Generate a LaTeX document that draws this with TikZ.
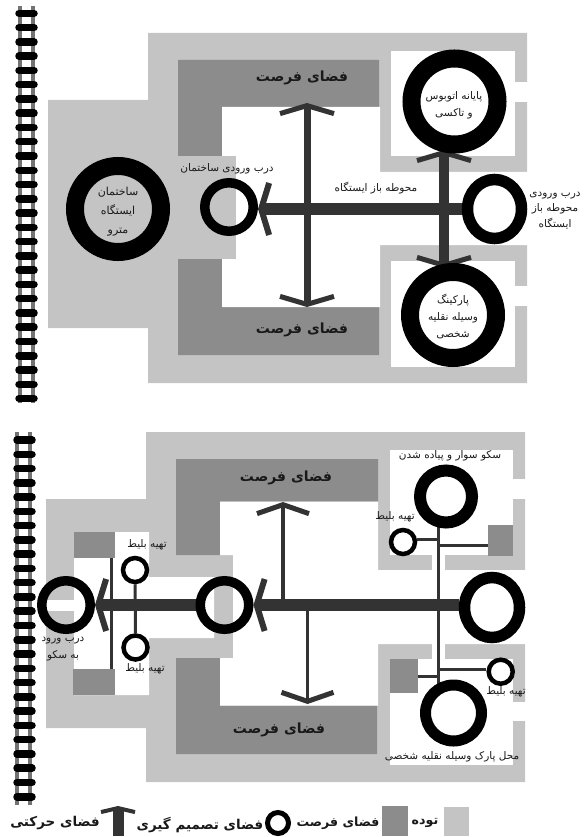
\documentclass[tikz,border=0pt]{standalone}
\usepackage{fontspec}
\usepackage{xcolor}
\usetikzlibrary{arrows.meta,backgrounds,calc,shapes.geometric}
\TeXXeTstate=1
\newfontfamily\fafont[Script=Arabic]{DejaVu Sans}
\definecolor{mass}{HTML}{c4c4c4}
\definecolor{chance}{HTML}{8c8c8c}
\definecolor{walk}{HTML}{333333}
\newcommand{\fa}[1]{\beginR #1\endR}

\begin{document}
\begin{tikzpicture}[x=1pt,y=-1pt,
  lbl/.style={font=\fafont\fontsize{10.5}{17}\selectfont, align=center, inner sep=0pt, text=black!90},
  lblbig/.style={font=\fafont\bfseries\fontsize{14}{16}\selectfont, inner sep=0pt, text=black!90},
  lblleg/.style={font=\fafont\bfseries\fontsize{13.5}{16}\selectfont, inner sep=0pt, text=black!90},
  ringbig/.style={circle, draw=black, line width=18pt, inner sep=0pt, minimum size=86pt},
  ringdoor/.style={circle, draw=black, line width=9.5pt, inner sep=0pt, minimum size=48.5pt},
  ringgate/.style={ellipse, draw=black, line width=11.5pt, inner sep=0pt, minimum width=54pt, minimum height=59pt},
  ringtick/.style={circle, draw=black, fill=white, line width=4.5pt, inner sep=0pt, minimum size=24pt},
  chancebox/.style={draw=none, fill=chance, inner sep=0pt},
  movebig/.style={line width=12pt, draw=walk, -{Straight Barb[length=8pt,width=52pt,line width=6pt]}},
  movemid/.style={line width=7pt, draw=walk, -{Straight Barb[length=8pt,width=54pt,line width=5pt]}},
  movelow/.style={line width=3.5pt, draw=walk, -{Straight Barb[length=9pt,width=52pt,line width=5pt]}},
  branch/.style={line width=3pt, draw=walk},
  railbar/.style={line width=3.5pt, draw=black!55},
  sleeper/.style={line width=7.5pt, draw=black, line cap=round}]

\useasboundingbox (0,0) rectangle (587,837);

% upper plan
\node[ringbig] (metro) at (118,209) {};
\node[lbl, font=\fafont\fontsize{11}{19}\selectfont] at (118,211.5) {\fa{ساختمان}\\ \fa{ایستگاه}\\ \fa{مترو}};
\node[ringdoor] (door) at (229,207) {};
\node[ringgate] (gate) at (494.5,209) {};
\node[ringbig, fill=white] (bus) at (454.5,101.5) {};
\node[lbl] at (454,105) {\fa{پایانه اتوبوس}\\ \fa{و تاکسی}};
\node[ringbig, fill=white] (park) at (453,315) {};
\node[lbl] at (453,316) {\fa{پارکینگ}\\ \fa{وسیله نقلیه}\\ \fa{شخصی}};
\coordinate (upA) at (307,103);
\coordinate (upB) at (307,307);
\coordinate (busA) at (444,150);
\coordinate (busB) at (444,268);

% lower plan
\node[ringdoor] (platDoor) at (66,605) {};
\node[ringdoor] (midDoor) at (224.5,605) {};
\node[ringgate, minimum width=55pt, minimum height=60pt] (lowGate) at (492,607.5) {};
\node[circle, draw=black, fill=white, line width=12pt, inner sep=0pt, minimum size=52pt] (platform) at (446,496.5) {};
\node[circle, draw=black, fill=white, line width=11pt, inner sep=0pt, minimum size=56pt] (carPark) at (453.5,713) {};
\node[ringtick] (tickA) at (403,542) {};
\node[ringtick] (tickB) at (500.7,671.7) {};
\node[ringtick] (tickC) at (135,570) {};
\node[ringtick] (tickD) at (135.5,647.5) {};
\node[chancebox, minimum width=25pt, minimum height=30.5pt] (boxA) at (500.5,540.3) {};
\node[chancebox, minimum width=28.5pt, minimum height=34pt] (boxB) at (404,676) {};
\node[chancebox, minimum width=41pt, minimum height=26pt] (boxC) at (94.5,545) {};
\node[chancebox, minimum width=42pt, minimum height=26pt] (boxD) at (94,682) {};
\coordinate (spineA) at (438,526);
\coordinate (spineB) at (438,690);
\coordinate (lowA) at (283,502);
\coordinate (lowB) at (283,605);
\coordinate (lowC) at (307.5,605);
\coordinate (lowD) at (307.5,704);

% legend
\node[chancebox, fill=mass, minimum width=25pt, minimum height=29pt] (legMass) at (456.5,821.5) {};
\node[chancebox, minimum width=26pt, minimum height=30pt] (legChance) at (395,821) {};
\node[circle, draw=black, line width=5pt, inner sep=0pt, minimum size=21pt] (legRing) at (278,823) {};
\coordinate (legA) at (118,836);
\coordinate (legB) at (118,806);

\begin{scope}[on background layer]
  % masses upper
  \fill[mass] (48,100) -- (148,100) -- (148,33) -- (527,33) -- (527,383) -- (148,383) -- (148,328) -- (48,328) -- cycle;
  \fill[chance] (178,60) -- (379,60) -- (379,107) -- (222,107) -- (222,156) -- (178,156) -- cycle;
  \fill[chance] (178,259) -- (222,259) -- (222,307) -- (379,307) -- (379,355) -- (178,355) -- cycle;
  \fill[white] (222,107) -- (380,107) -- (380,172) -- (530,172) -- (530,245) -- (380,245) -- (380,307) -- (222,307) -- (222,259) -- (236,259) -- (236,156) -- (222,156) -- cycle;
  \fill[white] (391,51) rectangle (515,156);
  \fill[white] (515,82.5) rectangle (530,102);
  \fill[white] (391,260.5) rectangle (515,367);
  \fill[white] (515,286) rectangle (530,305.5);
  % masses lower
  \fill[mass] (46,499) -- (146,499) -- (146,432) -- (525,432) -- (525,782) -- (146,782) -- (146,728) -- (46,728) -- cycle;
  \fill[chance] (176,459) -- (378,459) -- (378,501.5) -- (220,501.5) -- (220,555) -- (176,555) -- cycle;
  \fill[chance] (176,658) -- (220,658) -- (220,705.5) -- (377,705.5) -- (377,754) -- (176,754) -- cycle;
  \fill[white] (220,501.5) -- (378,501.5) -- (378,570) -- (530,570) -- (530,644) -- (378,644) -- (378,705.5) -- (220,705.5) -- (220,658) -- (233,658) -- (233,555) -- (220,555) -- cycle;
  \fill[white] (74,532) -- (149,532) -- (149,577) -- (214,577) -- (214,638) -- (149,638) -- (149,695) -- (74,695) -- cycle;
  \fill[white] (46,600) rectangle (74,611);
  \fill[white] (389.5,449.5) rectangle (513,555);
  \fill[white] (432,555) rectangle (445,570);
  \fill[white] (513,479) rectangle (530,499);
  \fill[white] (389.5,659) rectangle (513,765);
  \fill[white] (432,644) rectangle (445,659);
  \fill[white] (513,702) rectangle (530,721);
  % rails
  \foreach \x in {20,33} \draw[railbar] (\x,6) -- (\x,403);
  \foreach \i in {0,...,27} \draw[sleeper] (19,13.3+14.27*\i) -- (34,13.3+14.27*\i);
  \foreach \x in {17,30} \draw[railbar] (\x,432) -- (\x,805);
  \foreach \i in {0,...,25} \draw[sleeper] (17,440+14.27*\i) -- (32,440+14.27*\i);
  % walkways upper
  \draw[movebig] (gate.west) -- (gate.west -| door.east);
  \draw[movemid] ($(upA)!0.5!(upB)$) -- (upA);
  \draw[movemid] ($(upA)!0.5!(upB)$) -- (upB);
  \draw[movemid, line width=10pt] ($(busA)!0.5!(busB)$) -- (busA);
  \draw[movemid, line width=10pt] ($(busA)!0.5!(busB)$) -- (busB);
  % walkways lower
  \draw[branch] (tickC.south) -- (tickD.north);
  \draw[branch] ([xshift=-3.5pt]boxC.south east) -- ([xshift=-3.5pt]boxD.north east);
  \draw[movelow] (lowB) -- (lowA);
  \draw[movelow] (lowC) -- (lowD);
  \draw[branch] (spineA) -- (spineB);
  \draw[branch] (tickA.10) -- (tickA.10 -| spineA);
  \draw[branch] ([yshift=-5.4pt]boxA.west) -- ([yshift=-5.4pt]boxA.west -| spineA);
  \draw[branch] (boxB.east) -- (boxB.east -| spineA);
  \draw[branch] ([yshift=2.7pt]tickB.west) -- ([yshift=2.7pt]tickB.west -| spineA);
  \draw[movebig, line width=12.5pt] (midDoor.west) -- (platDoor.east);
  \draw[movebig, line width=12.5pt] (midDoor.east -| lowGate.west) -- (midDoor.east);
  % legend arrow
  \draw[line width=11pt, draw=walk, -{Straight Barb[length=4pt,width=34pt,line width=4pt]}] (legA) -- (legB);
\end{scope}

% labels upper
\node[lblbig] at (302,78) {\fa{فضای فرصت}};
\node[lblbig] at (302,330) {\fa{فضای فرصت}};
\node[lbl] at (227,169) {\fa{درب ورودی ساختمان}};
\node[lbl] at (376,188) {\fa{محوطه باز ایستگاه}};
\node[lbl, font=\fafont\fontsize{10.5}{15.5}\selectfont] at (555,210.5) {\fa{درب ورودی}\\ \fa{محوطه باز}\\ \fa{ایستگاه}};
% labels lower
\node[lblbig] at (286,478) {\fa{فضای فرصت}};
\node[lblbig] at (279,730) {\fa{فضای فرصت}};
\node[lbl] at (147,545) {\fa{تهیه بلیط}};
\node[lbl] at (145,669) {\fa{تهیه بلیط}};
\node[lbl] at (63,649.5) {\fa{درب ورود}\\ \fa{به سکو}};
\node[lbl] at (450,456) {\fa{سکو سوار و پیاده شدن}};
\node[lbl] at (395,517) {\fa{تهیه بلیط}};
\node[lbl] at (506,692) {\fa{تهیه بلیط}};
\node[lbl] at (452,757) {\fa{محل پارک وسیله نقلیه شخصی}};
% labels legend
\node[lblleg] at (55,823) {\fa{فضای حرکتی}};
\node[lblleg] at (200,825) {\fa{فضای تصمیم گیری}};
\node[lblleg, font=\fafont\bfseries\fontsize{12.6}{16}\selectfont] at (338,823) {\fa{فضای فرصت}};
\node[lblleg, font=\fafont\bfseries\fontsize{12.6}{16}\selectfont] at (425,823) {\fa{توده}};
\end{tikzpicture}
\end{document}
